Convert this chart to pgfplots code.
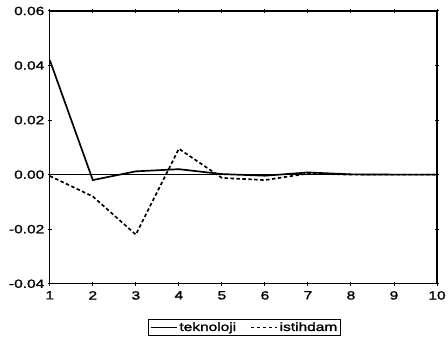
\documentclass[border=0pt]{standalone}
\usepackage{fontspec}
\setmainfont{Liberation Sans}
\newfontfamily\tickfont[FakeStretch=1.3,FakeBold=1.5]{Liberation Sans}
\usepackage{pgfplots}
\pgfplotsset{compat=1.18}

\begin{document}
\begin{tikzpicture}
\useasboundingbox (-50bp,-68bp) rectangle (400bp,285bp);
\begin{axis}[
    scale only axis,
    width=389bp, height=274bp,
    xmin=1, xmax=10, ymin=-0.04, ymax=0.06,
    xtick={1,...,10},
    ytick={-0.04,-0.02,0,0.02,0.04,0.06},
    yticklabels={-0.04,-0.02,0.00,0.02,0.04,0.06},
    scaled y ticks=false,
    /pgf/number format/assume math mode=true,
    tick align=center, major tick length=4bp,
    axis line style={line width=1.4pt},
    tick style={black, line width=1pt},
    tick label style={font=\tickfont\fontsize{12}{12}\selectfont},
    xticklabel style={yshift=-2bp},
    legend columns=2,
    legend style={at={(0.503,-0.16)}, anchor=center, draw=black, line width=1.2pt,
        font=\tickfont\fontsize{12}{12}\selectfont, inner sep=1pt,
        /tikz/every even column/.append style={column sep=12bp}},
    legend image code/.code={\draw[#1] (0bp,0bp) -- (26bp,0bp);},
]
\addplot[black, line width=1.7pt, forget plot] coordinates {(1,0) (10,0)};
\addplot[black, line width=1.7pt] coordinates {
 (1,0.042) (2,-0.002) (3,0.0012) (4,0.002) (5,0.0002) (6,-0.0004) (7,0.0008) (8,0.0001) (9,0) (10,0)};
\addlegendentry{teknoloji}
\addplot[black, line width=1.7pt, dash pattern=on 3.5pt off 2.5pt] coordinates {
 (1,-0.0005) (2,-0.008) (3,-0.022) (4,0.0095) (5,-0.0012) (6,-0.002) (7,0.0004) (8,0) (9,0) (10,0)};
\addlegendentry{istihdam}
\end{axis}
\end{tikzpicture}
\end{document}
